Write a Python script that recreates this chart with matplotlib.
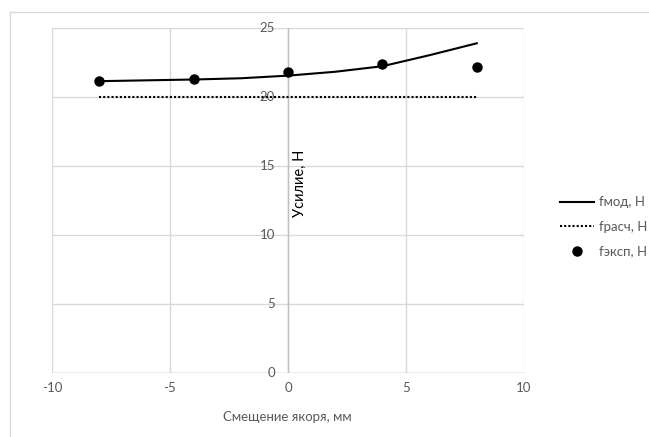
import matplotlib
matplotlib.use("Agg")
import matplotlib.pyplot as plt
from matplotlib.lines import Line2D

plt.rcParams['font.family'] = ['Lato', 'DejaVu Sans']
plt.rcParams['axes.unicode_minus'] = False

x_mod = [-8, -6, -4, -2, 0, 2, 4, 6, 8]
f_mod = [21.12, 21.18, 21.24, 21.33, 21.52, 21.8, 22.2, 23.0, 23.86]
x_vals = [-8, 8]
f_calc = [20, 20]
x_exp = [-8, -4, 0, 4, 8]
f_exp = [21.15, 21.25, 21.76, 22.34, 22.15]

x_ticks = [-10, -5, 0, 5, 10]
y_ticks = [0, 5, 10, 15, 20, 25]

labels = ['fмод, Н', 'fрасч, Н', 'fэксп, Н']
x_label = 'Смещение якоря, мм'
y_label = 'Усилие, Н'

W, H = 649, 437
fig = plt.figure(figsize=(W / 100, H / 100), dpi=100)
txt = '#595959'
grid = '#d9d9d9'
fs = 9.5

ax = fig.add_axes([52 / W, (H - 373.3) / H, (524 - 52) / W, (373.3 - 27.5) / H])
ax.set_xlim(-10, 10)
ax.set_ylim(0, 25)
for s in ax.spines.values():
    s.set_visible(False)
ax.set_xticks(x_ticks)
ax.set_yticks(y_ticks)
ax.grid(True, color=grid, lw=1)
ax.set_axisbelow(True)
ax.tick_params(axis='both', length=0)
ax.tick_params(axis='x', pad=6, labelsize=fs, labelcolor=txt)
ax.set_yticklabels([])
ax.axvline(0, color='#bfbfbf', lw=1, zorder=1)
ax.axhline(0, color='#bfbfbf', lw=1, zorder=1)

for v in y_ticks:
    ax.annotate(str(v), xy=(0, v), xytext=(-13, 0), textcoords='offset pixels',
                ha='right', va='center', fontsize=fs, color=txt, zorder=3)

l1, = ax.plot(x_mod, f_mod, color='black', lw=1.5, zorder=4)
l2, = ax.plot(x_vals, f_calc, color='black', lw=1.5, ls=(0, (1, 1)), zorder=4)
l3, = ax.plot(x_exp, f_exp, ls='none', marker='o', ms=6.5, color='black', zorder=5)

fig.text(287 / W, 1 - 416.7 / H, x_label, ha='center', va='center', fontsize=fs, color=txt)
fig.text(300 / W, 1 - 183 / H, y_label, ha='center', va='center', rotation=90, fontsize=10.5, color='black')

leg = fig.legend([l1, l2, l3], labels, loc='center left', bbox_to_anchor=(548 / W, 1 - 226.7 / H),
                 frameon=False, fontsize=fs, labelcolor=txt, handlelength=2.6, handletextpad=0.4,
                 labelspacing=0.95)

# outer chart frame
fig.add_artist(Line2D([10 / W, 1], [1 - 12 / H, 1 - 12 / H], color='#d9d9d9', lw=1, transform=fig.transFigure))
fig.add_artist(Line2D([10 / W, 10 / W], [0, 1 - 12 / H], color='#d9d9d9', lw=1, transform=fig.transFigure))

fig.savefig('out.png', dpi=100, facecolor='white')
